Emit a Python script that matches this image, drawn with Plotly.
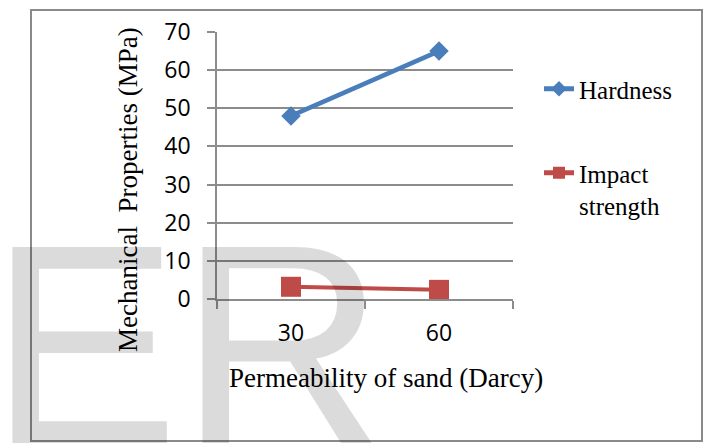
import plotly.graph_objects as go

# ---- data ----
categories = ["30", "60"]
hardness = [48, 65]
impact_strength = [3.2, 2.4]
y_ticks = [0, 10, 20, 30, 40, 50, 60, 70]

W, H = 708, 443
ML, MR, MT, MB = 217, 195, 32, 144
PW, PH = W - ML - MR, H - MT - MB


def px(x):
    return (x - ML) / PW


def py(y):
    return (H - MB - y) / PH


BLUE = "#4A7EBB"
RED = "#BE4B48"
GRID = "#8C8C8C"
SERIF = "Liberation Serif, Times New Roman, serif"
SANS = "Open Sans, Liberation Sans, sans-serif"

fig = go.Figure()
fig.add_trace(go.Scatter(
    x=categories, y=hardness, name="Hardness", mode="lines+markers",
    line=dict(color=BLUE, width=4.5),
    marker=dict(symbol="diamond", size=15, color=BLUE),
    legend="legend", cliponaxis=False,
))
fig.add_trace(go.Scatter(
    x=categories, y=impact_strength, name="Impact<br>strength", mode="lines+markers",
    line=dict(color=RED, width=4),
    marker=dict(symbol="square", size=20, color=RED),
    legend="legend2", cliponaxis=False,
))

fig.update_layout(
    width=W, height=H,
    margin=dict(l=ML, r=MR, t=MT, b=MB, pad=0),
    paper_bgcolor="white", plot_bgcolor="white",
    showlegend=True,
    legend=dict(x=px(539), y=py(89), xanchor="left", yanchor="middle",
                font=dict(family=SERIF, size=25, color="black"),
                bgcolor="rgba(0,0,0,0)", itemsizing="constant"),
    legend2=dict(x=px(539), y=py(150), xanchor="left", yanchor="top",
                 font=dict(family=SERIF, size=25, color="black"),
                 bgcolor="rgba(0,0,0,0)", itemsizing="constant", valign="top"),
    xaxis=dict(
        type="category", range=[-0.5, 1.5], tickson="boundaries",
        ticks="outside", ticklen=8, tickwidth=1.5, tickcolor=GRID,
        showline=True, linecolor=GRID, linewidth=1.5,
        showgrid=False, zeroline=False,
        tickfont=dict(family=SANS, size=23, color="black"),
        ticklabelstandoff=13,
    ),
    yaxis=dict(
        range=[0, 70], tickvals=y_ticks, ticks="outside", ticklen=8,
        tickwidth=1.5, tickcolor=GRID,
        showline=True, linecolor=GRID, linewidth=1.5,
        showgrid=True, gridcolor=GRID, gridwidth=1.5, zeroline=False,
        tickfont=dict(family=SANS, size=23, color="black"),
        ticklabelstandoff=12,
    ),
    shapes=[dict(type="rect", xref="paper", yref="paper",
                 x0=px(31), x1=px(702), y0=py(441), y1=py(10),
                 line=dict(color="#8A8A8A", width=2), layer="above")],
    annotations=[
        dict(text="Mechanical  Properties (MPa)", xref="paper", yref="paper",
             x=px(128), y=py(190), xanchor="center", yanchor="middle",
             textangle=-90, showarrow=False,
             font=dict(family=SERIF, size=27, color="black")),
        dict(text="Permeability of sand (Darcy)", xref="paper", yref="paper",
             x=px(386), y=py(378), xanchor="center", yanchor="middle",
             showarrow=False,
             font=dict(family=SERIF, size=27, color="black")),
        dict(text="ER", xref="paper", yref="paper",
             x=px(-13.5), y=py(183), xanchor="left", yanchor="top",
             showarrow=False,
             font=dict(family="Liberation Sans, Arial, sans-serif", size=285,
                       color="rgba(0,0,0,0.14)")),
    ],
)

fig.write_html("out.html")
